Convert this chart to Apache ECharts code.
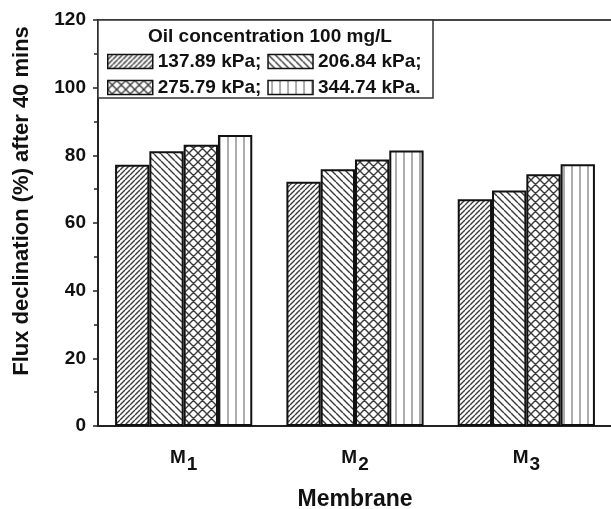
<!DOCTYPE html>
<html><head><meta charset="utf-8">
<script src="https://cdn.jsdelivr.net/npm/echarts@6/dist/echarts.min.js"></script>
<style>html,body{margin:0;padding:0;background:#fff}#c{width:611px;height:509px}</style>
</head><body><div id="c"></div>
<script>
const categories = ['M1', 'M2', 'M3'];
const seriesNames = ['137.89 kPa;', '206.84 kPa;', '275.79 kPa;', '344.74 kPa.'];
const s1 = [77.2, 72.2, 67.0];
const s2 = [81.2, 75.9, 69.6];
const s3 = [83.1, 78.8, 74.4];
const s4 = [86.0, 81.4, 77.4];
const legendTitle = 'Oil concentration 100 mg/L';
const yTitle = 'Flux declination (%) after 40 mins';
const xTitle = 'Membrane';

function pattern(type) {
  const p = {s1: 5, s2: 7, s3: 9, s4: 8}[type];
  const c = document.createElement('canvas');
  c.width = p; c.height = p;
  const g = c.getContext('2d');
  g.fillStyle = '#fff'; g.fillRect(0, 0, p, p);
  g.lineWidth = 1.4;
  g.strokeStyle = '#3a3a3a';
  g.beginPath();
  if (type === 's1' || type === 's3') {
    for (let k = -1; k <= 1; k++) { g.moveTo(k * p, p); g.lineTo(k * p + p, 0); }
  }
  if (type === 's2' || type === 's3') {
    for (let k = -1; k <= 1; k++) { g.moveTo(k * p, 0); g.lineTo(k * p + p, p); }
  }
  if (type === 's4') {
    g.strokeStyle = '#777'; g.lineWidth = 1.2;
    g.moveTo(4, 0); g.lineTo(4, p);
  }
  g.stroke();
  return {image: c, repetition: 'repeat'};
}

const FONT = '"Liberation Sans", Arial, Helvetica, sans-serif';
const chart = echarts.init(document.getElementById('c'), null, {renderer: 'canvas'});
const data = [s1, s2, s3, s4];
const keys = ['s1', 's2', 's3', 's4'];
const series = data.map((d, i) => ({
  name: seriesNames[i], type: 'bar', data: d, barWidth: 34.3, barGap: '0%',
  itemStyle: {color: pattern(keys[i]), borderColor: '#111', borderWidth: 2},
  emphasis: {disabled: true}
}));
const legendCommon = {
  orient: 'horizontal', padding: 0, itemWidth: 45, itemHeight: 14, itemGap: 6, icon: 'rect',
  textStyle: {fontFamily: FONT, fontSize: 19, fontWeight: 'bold', color: '#111'},
  itemStyle: {borderColor: '#111', borderWidth: 1.5}, selectedMode: false, z: 10
};
chart.setOption({
  animation: false,
  textStyle: {fontFamily: FONT},
  grid: {left: 98, top: 20, width: 514, height: 406, outerBoundsMode: 'none', containLabel: false,
         show: true, borderColor: '#444', borderWidth: 2, backgroundColor: 'transparent'},
  legend: [
    Object.assign({}, legendCommon, {left: 107, top: 52, data: [seriesNames[0], seriesNames[1]]}),
    Object.assign({}, legendCommon, {left: 107, top: 78, data: [seriesNames[2], seriesNames[3]]})
  ],
  xAxis: [{
    type: 'category', data: categories, position: 'bottom',
    axisLine: {lineStyle: {color: '#222', width: 2}},
    axisTick: {alignWithLabel: true, length: 8, lineStyle: {color: '#222', width: 1.5}},
    axisLabel: {
      margin: 22, interval: 0, color: '#111',
      formatter: v => '{m|' + v.charAt(0) + '}{s|' + v.slice(1) + '}',
      rich: {
        m: {fontFamily: FONT, fontSize: 19, fontWeight: 'bold', color: '#111', verticalAlign: 'top'},
        s: {fontFamily: FONT, fontSize: 19, fontWeight: 'bold', color: '#111', verticalAlign: 'top', padding: [7, 0, 0, 1]}
      }
    },
    name: xTitle, nameLocation: 'middle', nameGap: 62,
    nameTextStyle: {fontFamily: FONT, fontSize: 23, fontWeight: 'bold', color: '#111'}
  }, {
    type: 'category', data: categories, position: 'bottom', gridIndex: 0,
    axisLine: {show: false}, axisLabel: {show: false},
    axisTick: {length: 4, lineStyle: {color: '#222', width: 1.5}}
  }],
  yAxis: {
    type: 'value', min: 0, max: 120, interval: 20,
    splitLine: {show: false},
    axisLine: {show: true, lineStyle: {color: '#222', width: 2}},
    axisTick: {show: true, length: 5, lineStyle: {color: '#222', width: 1.5}},
    minorTick: {show: true, splitNumber: 2, length: 4, lineStyle: {color: '#222', width: 1.5}},
    axisLabel: {margin: 12, fontFamily: FONT, fontSize: 19, fontWeight: 'bold', color: '#111'}
  },
  graphic: [
    {type: 'rect', shape: {x: 98, y: 20, width: 335, height: 78}, style: {fill: '#fff', stroke: '#333', lineWidth: 1.5}, z: 5},
    {type: 'text', x: 148, y: 37, z: 6, style: {text: legendTitle, fontFamily: FONT, fontSize: 19, fontWeight: 'bold', fill: '#111', textVerticalAlign: 'middle'}},
    {type: 'text', x: 22, y: 201, rotation: Math.PI / 2, z: 6, style: {text: yTitle, fontFamily: FONT, fontSize: 22, fontWeight: 'bold', fill: '#111', textAlign: 'center', textVerticalAlign: 'middle'}}
  ],
  series: series
});
</script></body></html>
